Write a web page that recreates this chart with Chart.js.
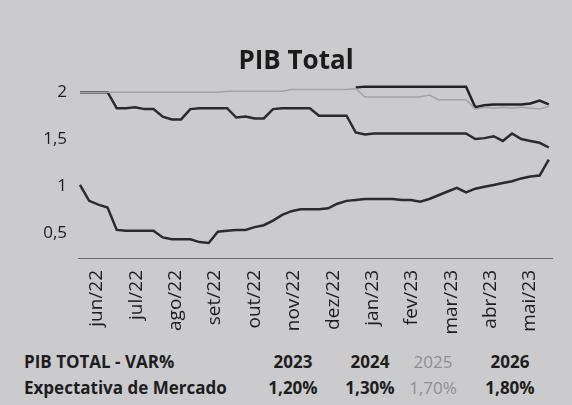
<!DOCTYPE html>
<html>
<head>
<meta charset="utf-8">
<script src="https://cdn.jsdelivr.net/npm/chart.js@4.4.1/dist/chart.umd.min.js"></script>
<style>
  body { margin: 0; background: #cbcbcd; font-family: "Open Sans", sans-serif; color: #1d1d1d; }
  #wrap { position: relative; width: 572px; height: 405px; overflow: hidden; }
  #c { position: absolute; left: 0; top: 0; }
  .cell { position: absolute; font-weight: bold; font-size: 17px; white-space: nowrap; line-height: 22px; }
  .mid { transform: translateX(-50%); }
  .light { color: #8f8f92; font-weight: normal; }
</style>
</head>
<body>
<div id="wrap">
  <canvas id="c" width="572" height="340"></canvas>
  <div id="tbl"></div>
</div>
<script>
// month tick labels (jun/22 = 0)
const months = ['jun/22', 'jul/22', 'ago/22', 'set/22', 'out/22', 'nov/22',
                'dez/22', 'jan/23', 'fev/23', 'mar/23', 'abr/23', 'mai/23'];
const yTicks = [0.5, 1, 1.5, 2];

// weekly Focus readings, one per week (52 weeks)
const pib2023 = [1.01, 0.84, 0.80, 0.77, 0.53, 0.52, 0.52, 0.52, 0.52, 0.45, 0.43, 0.43, 0.43,
                 0.40, 0.39, 0.51, 0.52, 0.53, 0.53, 0.56, 0.58, 0.63, 0.69, 0.73, 0.75, 0.75,
                 0.75, 0.76, 0.81, 0.84, 0.85, 0.86, 0.86, 0.86, 0.86, 0.85, 0.85, 0.83, 0.86,
                 0.90, 0.94, 0.98, 0.93, 0.97, 0.99, 1.01, 1.03, 1.05, 1.08, 1.10, 1.11, 1.28];
const pib2024 = [2.00, 2.00, 2.00, 2.00, 1.83, 1.83, 1.84, 1.82, 1.82, 1.74, 1.71, 1.71, 1.82,
                 1.83, 1.83, 1.83, 1.83, 1.73, 1.74, 1.72, 1.72, 1.82, 1.83, 1.83, 1.83, 1.83,
                 1.75, 1.75, 1.75, 1.75, 1.57, 1.55, 1.56, 1.56, 1.56, 1.56, 1.56, 1.56, 1.56,
                 1.56, 1.56, 1.56, 1.56, 1.50, 1.51, 1.53, 1.48, 1.56, 1.50, 1.48, 1.46, 1.41];
const pib2025 = [2.00, 2.00, 2.00, 2.00, 2.00, 2.00, 2.00, 2.00, 2.00, 2.00, 2.00, 2.00, 2.00,
                 2.00, 2.00, 2.00, 2.01, 2.01, 2.01, 2.01, 2.01, 2.01, 2.01, 2.03, 2.03, 2.03,
                 2.03, 2.03, 2.03, 2.03, 2.04, 1.95, 1.95, 1.95, 1.95, 1.95, 1.95, 1.95, 1.97,
                 1.92, 1.92, 1.92, 1.92, 1.82, 1.84, 1.83, 1.84, 1.83, 1.84, 1.83, 1.82, 1.85];
const pib2026 = [null, null, null, null, null, null, null, null, null, null, null, null, null,
                 null, null, null, null, null, null, null, null, null, null, null, null, null,
                 null, null, null, null, 2.05, 2.06, 2.06, 2.06, 2.06, 2.06, 2.06, 2.06, 2.06,
                 2.06, 2.06, 2.06, 2.06, 1.84, 1.86, 1.87, 1.87, 1.87, 1.87, 1.88, 1.91, 1.87];

// table under the chart
const tableYears = ['2023', '2024', '2025', '2026'];
const tableValues = ['1,20%', '1,30%', '1,70%', '1,80%'];

// week i sits at this position on the month axis
const firstWeek = -0.43, weekStep = 0.2335;
const pts = arr => arr.map((v, i) => ({ x: firstWeek + i * weekStep, y: v }));

const dark = '#2b2b2c';

new Chart(document.getElementById('c'), {
  type: 'line',
  data: {
    datasets: [
      { label: '2025', data: pts(pib2025), borderColor: '#a3a3a6', borderWidth: 1.5 },
      { label: '2023', data: pts(pib2023), borderColor: dark, borderWidth: 2.5 },
      { label: '2024', data: pts(pib2024), borderColor: dark, borderWidth: 2.5 },
      { label: '2026', data: pts(pib2026), borderColor: '#232324', borderWidth: 2.5 }
    ]
  },
  options: {
    responsive: false,
    animation: false,
    layout: { padding: { left: 40, right: 20, top: 0, bottom: 0 } },
    elements: { point: { radius: 0 }, line: { tension: 0 } },
    plugins: {
      legend: { display: false },
      tooltip: { enabled: false },
      title: {
        display: true,
        text: 'PIB Total',
        color: '#1b1b1b',
        font: { family: '"Open Sans", sans-serif', size: 26, weight: 'bold' },
        padding: { top: 46, bottom: 1 }
      }
    },
    scales: {
      x: {
        type: 'linear',
        min: -0.48,
        max: 11.56,
        afterFit: s => { s.height = 82; },
        afterBuildTicks: s => { s.ticks = months.map((m, i) => ({ value: i })); },
        grid: { display: false },
        border: { display: true, color: '#6a6a6c', width: 1 },
        ticks: {
          autoSkip: false,
          minRotation: 90,
          maxRotation: 90,
          padding: 4,
          color: '#1d1d1d',
          font: { family: '"Open Sans", sans-serif', size: 19 },
          callback: v => months[v]
        }
      },
      y: {
        min: 0.23,
        max: 2.15,
        afterFit: s => { s.width = 38; },
        afterBuildTicks: s => { s.ticks = yTicks.map(v => ({ value: v })); },
        grid: { display: false },
        border: { display: false },
        ticks: {
          padding: 3,
          color: '#1d1d1d',
          font: { family: '"Open Sans", sans-serif', size: 17 },
          callback: v => String(v).replace('.', ',')
        }
      }
    }
  }
});

// build the small table
const tbl = document.getElementById('tbl');
const colCenters = [293, 370, 433, 510];
function cell(text, left, top, cls) {
  const d = document.createElement('div');
  d.className = 'cell ' + (cls || '');
  d.style.left = left + 'px';
  d.style.top = top + 'px';
  d.textContent = text;
  tbl.appendChild(d);
}
cell('PIB TOTAL - VAR%', 24, 351);
cell('Expectativa de Mercado', 24, 377);
tableYears.forEach((y, i) => cell(y, colCenters[i], 351, 'mid' + (i === 2 ? ' light' : '')));
tableValues.forEach((v, i) => cell(v, colCenters[i], 377, 'mid' + (i === 2 ? ' light' : '')));
</script>
</body>
</html>
